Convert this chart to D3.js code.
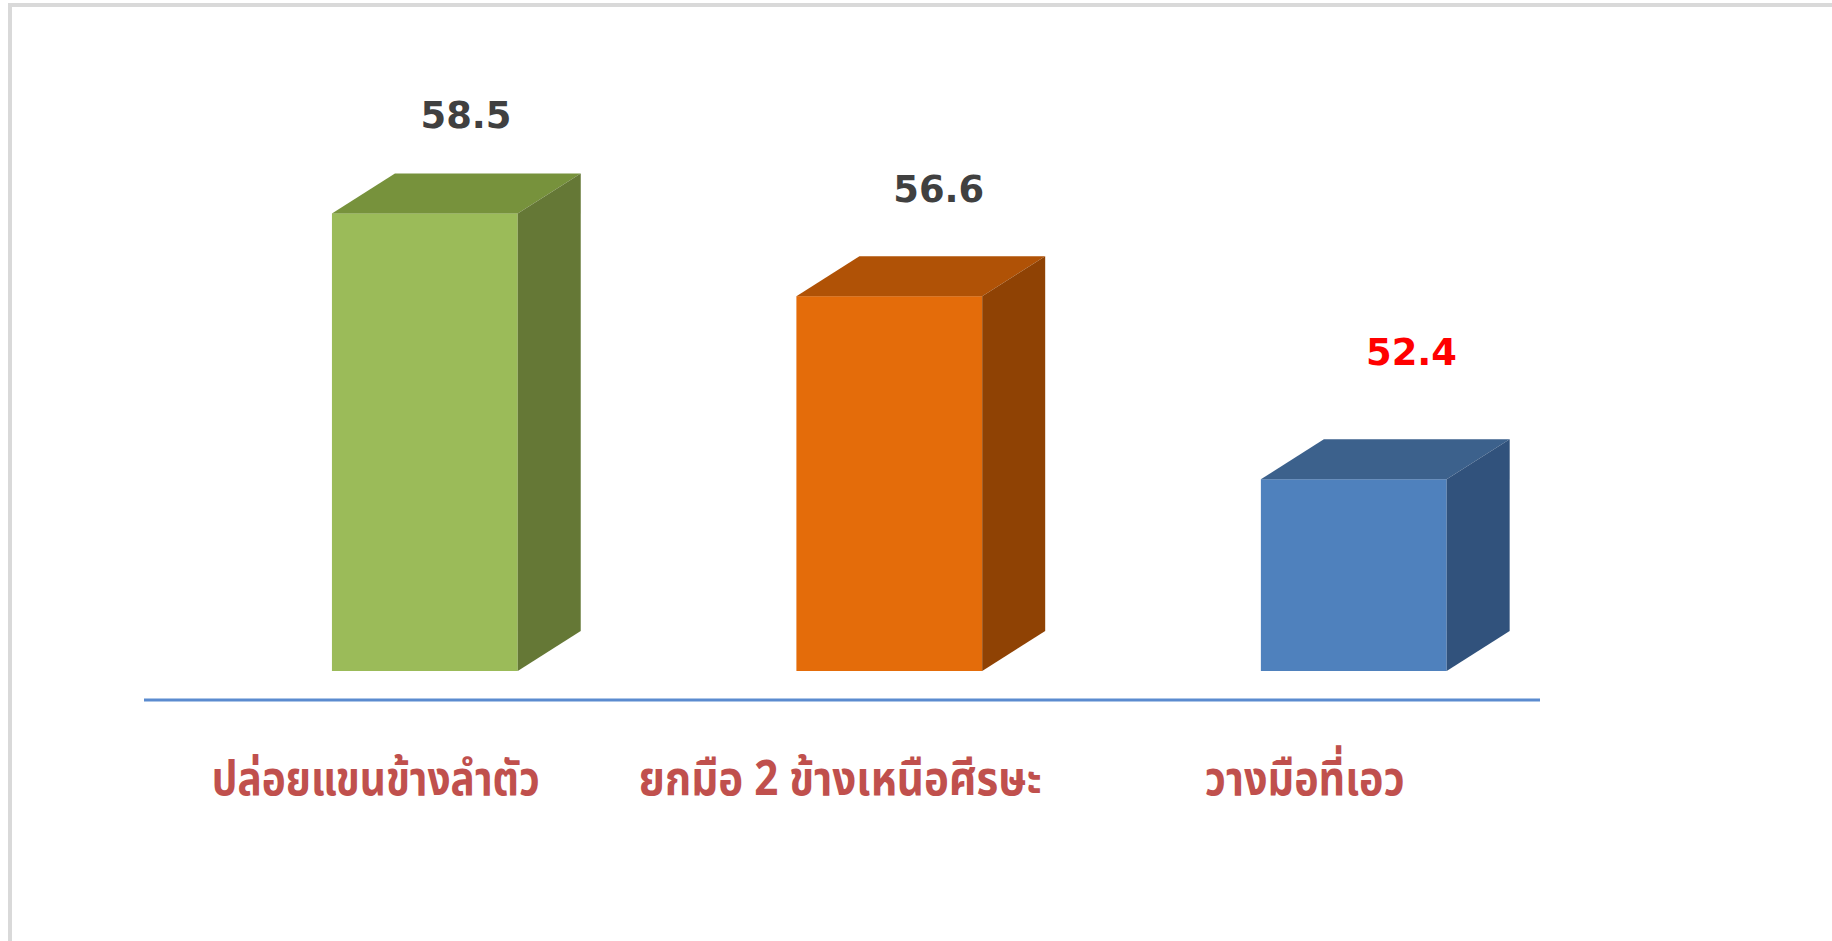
<!DOCTYPE html>
<html>
<head>
  <meta charset="utf-8">
  <script src="https://cdn.jsdelivr.net/npm/d3@7"></script>
  <style>
    body { margin: 0; background: #fff; }
    svg { display: block; }
  </style>
</head>
<body>
  <svg width="1832" height="941"></svg>
  <script>
    // data
    var categories = ["ปล่อยแขนข้างลำตัว", "ยกมือ 2 ข้างเหนือศีรษะ", "วางมือที่เอว"];
    var values = [58.5, 56.6, 52.4];
    var valueColors = ["#404040", "#404040", "#ff0000"];
    var frontColors = ["#9bbb59", "#e46c0a", "#4f81bd"];
    var topColors = ["#77923c", "#b05206", "#3c618c"];
    var sideColors = ["#657836", "#8f4204", "#31527c"];
    var catWidths = [328, 403, 200]; // condensed font in the original

    var svg = d3.select("svg");

    // frame
    svg.append("rect")
      .attr("x", 10).attr("y", 5)
      .attr("width", 1840).attr("height", 960)
      .attr("fill", "none")
      .attr("stroke", "#d9d9d9")
      .attr("stroke-width", 4);

    var x = d3.scaleBand().domain(categories)
      .range([192.6, 1586]).paddingInner(0.6).paddingOuter(0.3);
    var y = d3.scaleLinear().domain([48, 60]).range([671, 148]);
    // labels sit on a flatter projection in the 3d view
    var yLab = d3.scaleLinear().domain([48, 60]).range([536, 70]);
    var xLab = d3.scalePoint().domain(categories).range([466, 1411.5]);

    var dx = 63, dy = 40;
    var bw = x.bandwidth();

    // floor line
    svg.append("line")
      .attr("x1", 144).attr("x2", 1540)
      .attr("y1", 700).attr("y2", 700)
      .attr("stroke", "#5b8bcf")
      .attr("stroke-width", 3);

    var bars = svg.selectAll("g.bar")
      .data(categories)
      .join("g").attr("class", "bar");

    bars.append("rect")
      .attr("x", function(c){ return x(c); })
      .attr("y", function(c, i){ return y(values[i]); })
      .attr("width", bw)
      .attr("height", function(c, i){ return y(48) - y(values[i]); })
      .attr("fill", function(c, i){ return frontColors[i]; });

    bars.append("polygon")
      .attr("points", function(c, i){
        var x0 = x(c), x1 = x0 + bw, yt = y(values[i]);
        return [[x0, yt], [x0 + dx, yt - dy], [x1 + dx, yt - dy], [x1, yt]].join(" ");
      })
      .attr("fill", function(c, i){ return topColors[i]; });

    bars.append("polygon")
      .attr("points", function(c, i){
        var x1 = x(c) + bw, yt = y(values[i]), yb = y(48);
        return [[x1, yt], [x1 + dx, yt - dy], [x1 + dx, yb - dy], [x1, yb]].join(" ");
      })
      .attr("fill", function(c, i){ return sideColors[i]; });

    // value labels
    svg.selectAll("text.val")
      .data(categories)
      .join("text").attr("class", "val")
      .attr("x", function(c){ return xLab(c); })
      .attr("y", function(c, i){ return yLab(values[i]); })
      .attr("text-anchor", "middle")
      .attr("font-family", "'DejaVu Sans', sans-serif")
      .attr("font-weight", "bold")
      .attr("font-size", 37)
      .attr("textLength", 91)
      .attr("lengthAdjust", "spacingAndGlyphs")
      .attr("fill", function(c, i){ return valueColors[i]; })
      .text(function(c, i){ return values[i].toFixed(1); });

    // category labels
    svg.selectAll("text.cat")
      .data(categories)
      .join("text").attr("class", "cat")
      .attr("x", function(c){ return x(c) + bw / 2 - 49; })
      .attr("y", 795)
      .attr("text-anchor", "middle")
      .attr("font-family", "'Noto Sans Thai', 'Noto Sans', 'DejaVu Sans', sans-serif")
      .attr("font-size", 48)
      .attr("font-weight", "bold")
      .attr("textLength", function(c, i){ return catWidths[i]; })
      .attr("lengthAdjust", "spacingAndGlyphs")
      .attr("fill", "#c0504d")
      .text(function(c){ return c; });
  </script>
</body>
</html>
